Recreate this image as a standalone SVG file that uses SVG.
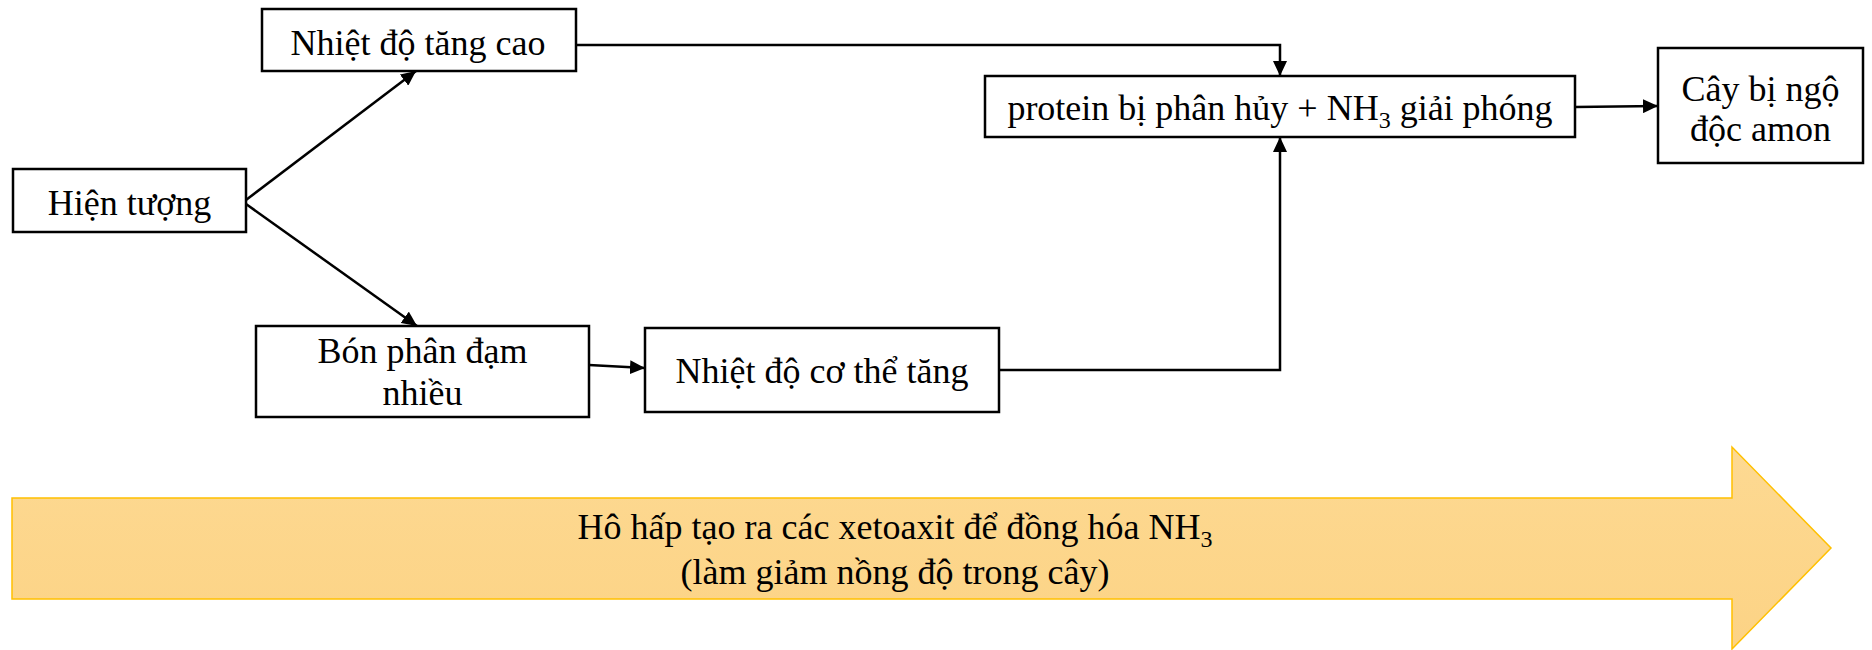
<svg xmlns="http://www.w3.org/2000/svg" width="1872" height="650" viewBox="0 0 1872 650">
  <style>
    .box { fill: #ffffff; stroke: #000000; stroke-width: 2.5; }
    .lbl { font-family: "Liberation Serif", "Times New Roman", serif; font-size: 36px; fill: #000000; text-anchor: middle; }
    .conn { fill: none; stroke: #000000; stroke-width: 2.5; marker-end: url(#head); }
  </style>
  <defs>
    <marker id="head" markerUnits="userSpaceOnUse" markerWidth="16" markerHeight="14" refX="15" refY="7" orient="auto">
      <path d="M0,0 L15,7 L0,14 Z" fill="#000000"/>
    </marker>
    <linearGradient id="band" x1="0" y1="0" x2="0" y2="1">
      <stop offset="0" stop-color="#FDD992"/>
      <stop offset="1" stop-color="#FCD385"/>
    </linearGradient>
  </defs>

  <rect width="1872" height="650" fill="#ffffff"/>

  <!-- broad process arrow along the bottom -->
  <g id="respiration">
    <polygon points="12,498 1732,498 1732,447 1831,548 1732,649 1732,599 12,599" fill="url(#band)" stroke="#FFC000" stroke-width="1.5"/>
    <text class="lbl" x="895" y="539">Hô hấp tạo ra các xetoaxit để đồng hóa NH<tspan font-size="24" dy="8">3</tspan></text>
    <text class="lbl" x="895" y="584">(làm giảm nồng độ trong cây)</text>
  </g>

  <g id="connectors">
    <line class="conn" x1="246" y1="200" x2="416" y2="71"/>
    <line class="conn" x1="246" y1="204" x2="417" y2="326"/>
    <polyline class="conn" points="576,45 1280,45 1280,76"/>
    <line class="conn" x1="589" y1="365" x2="645" y2="368"/>
    <polyline class="conn" points="999,370 1280,370 1280,137"/>
    <line class="conn" x1="1575" y1="107" x2="1658" y2="106"/>
  </g>

  <g id="hien-tuong">
    <rect class="box" x="13" y="169" width="233" height="63"/>
    <text class="lbl" x="129.5" y="215">Hiện tượng</text>
  </g>

  <g id="nhiet-do-tang-cao">
    <rect class="box" x="262" y="9" width="314" height="62"/>
    <text class="lbl" x="418" y="55">Nhiệt độ tăng cao</text>
  </g>

  <g id="bon-phan-dam">
    <rect class="box" x="256" y="326" width="333" height="91"/>
    <text class="lbl" x="422.5" y="363">Bón phân đạm</text>
    <text class="lbl" x="422.5" y="405">nhiều</text>
  </g>

  <g id="nhiet-do-co-the">
    <rect class="box" x="645" y="328" width="354" height="84"/>
    <text class="lbl" x="822" y="383">Nhiệt độ cơ thể tăng</text>
  </g>

  <g id="protein">
    <rect class="box" x="985" y="76" width="590" height="61"/>
    <text class="lbl" x="1280" y="120">protein bị phân hủy + NH<tspan font-size="24" dy="8">3</tspan><tspan dy="-8"> giải phóng</tspan></text>
  </g>

  <g id="cay-ngo-doc">
    <rect class="box" x="1658" y="48" width="205" height="115"/>
    <text class="lbl" x="1760.5" y="101">Cây bị ngộ</text>
    <text class="lbl" x="1760.5" y="141">độc amon</text>
  </g>
</svg>
